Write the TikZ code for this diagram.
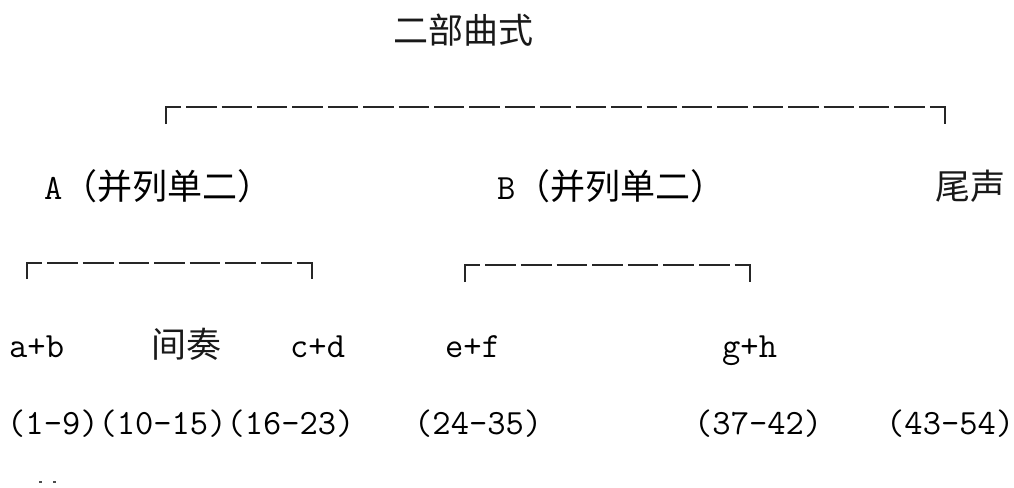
\documentclass[tikz,border=0pt]{standalone}
\usepackage{fontspec}
\newfontfamily\cjkfont{Noto Sans CJK SC}
\newcommand\mycj[1]{{\cjkfont\fontsize{35}{35}\selectfont #1}}
\tikzset{
  cj/.style={font=\cjkfont\fontsize{35}{35}\selectfont, inner sep=0pt, anchor=base west, text=black!90},
  lt/.style={font=\ttfamily\fontsize{35.5}{35.5}\selectfont, inner sep=0pt, anchor=base west, text=black},
  brk/.style={line width=2pt, draw=black!85},
}
\begin{document}
\begin{tikzpicture}[x=1pt,y=-1pt]
\fill[white] (0,0) rectangle (1014,487);
\useasboundingbox (0,0) rectangle (1014,487);

% titles
\node[cj] (root) at (393,44) {二部曲式};
\node[lt] (A) at (44,199) {A\mycj{（并列单二）}};
\node[lt] (B) at (497,199) {B\mycj{（并列单二）}};
\node[cj] (coda) at (935,199) {尾声};

% second level
\node[lt] (ab) at (9,357) {a+b};
\node[cj] (inter) at (151,357) {间奏};
\node[lt] (cd) at (290,357) {c+d};
\node[lt] (ef) at (445,357) {e+f};
\node[lt] (gh) at (722,357) {g+h};

% bar numbers
\node[lt] (m1) at (7,434) {(1-9)(10-15)(16-23)};
\node[lt] (m2) at (414,434) {(24-35)};
\node[lt] (m3) at (694,434) {(37-42)};
\node[lt] (m4) at (886,434) {(43-54)};

% brackets
\foreach \nm/\xa/\xb/\yt/\yb/\n in {big/166/945/107/124/21, ba/27/312/263/279/7, bb/465/750/265/282/7} {
  \pgfmathsetmacro\pp{(\xb-\xa)/(\n+1)}
  \pgfmathsetmacro\onlen{\pp-5}
  \pgfmathsetmacro\ph{\pp/2-2.5}
  \coordinate (\nm-bl) at (\xa,\yb);
  \coordinate (\nm-tl) at (\xa,\yt);
  \coordinate (\nm-tr) at (\xb,\yt);
  \coordinate (\nm-br) at (\xb,\yb);
  \draw[brk] (\nm-bl) -- ([yshift=1pt]\nm-tl);
  \draw[brk, dash pattern=on \onlen pt off 5pt, dash phase=\ph pt] (\nm-tl) -- (\nm-tr);
  \draw[brk] ([yshift=1pt]\nm-tr) -- (\nm-br);
}

% cropped marks at bottom
\fill[black!70] (39,480.5) rectangle (41.5,483);
\fill[black!70] (53,480.5) rectangle (55.5,483);
\end{tikzpicture}
\end{document}
